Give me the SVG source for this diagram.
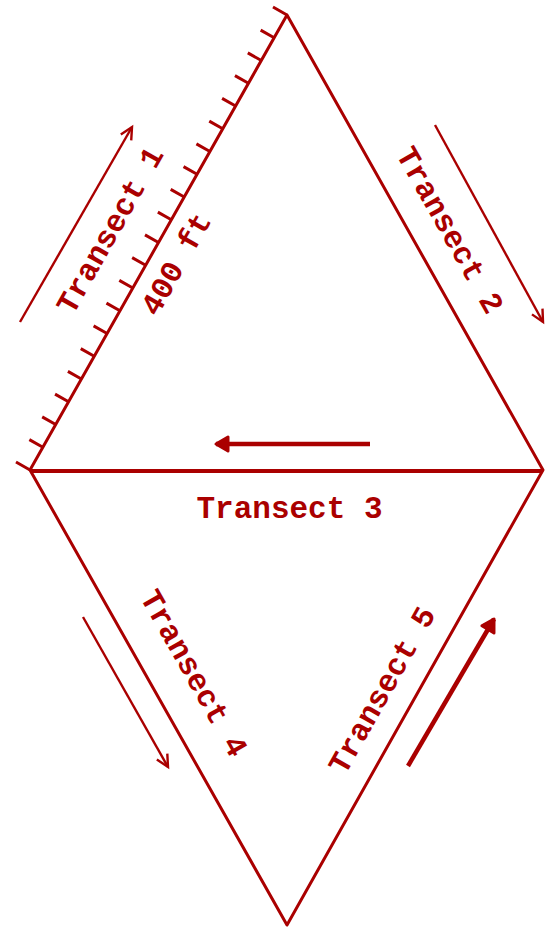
<svg xmlns="http://www.w3.org/2000/svg" width="545" height="928" viewBox="0 0 545 928">
<style>
.edge{fill:none;stroke:#aa0000;stroke-width:3;stroke-linecap:round;stroke-linejoin:round}
.base{fill:none;stroke:#aa0000;stroke-width:4}
.tick{fill:none;stroke:#aa0000;stroke-width:3}
.thin{fill:none;stroke:#aa0000;stroke-width:2.4}
.thick{fill:none;stroke:#aa0000;stroke-width:4.5}
.lbl{font-family:"Liberation Mono","DejaVu Sans Mono",monospace;font-weight:bold;font-size:31px;fill:#aa0000;text-anchor:middle}
</style>
<defs>
<marker id="open" markerUnits="userSpaceOnUse" markerWidth="20" markerHeight="20" viewBox="-14 -10 18 20" refX="0" refY="0" orient="auto">
<path d="M-12,-6 L0,0 L-12,6" fill="none" stroke="#aa0000" stroke-width="2.4"/>
</marker>
<marker id="bold" markerUnits="userSpaceOnUse" markerWidth="24" markerHeight="24" viewBox="-16 -12 20 24" refX="0" refY="0" orient="auto">
<path d="M-12,-7 L0,0 L-12,7 Z" fill="#aa0000" stroke="#aa0000" stroke-width="3" stroke-linejoin="round"/>
</marker>
</defs>
<g id="connectors">
<path class="edge" d="M30,470 L287,15 L543,470 L287,925 Z"/>
<path class="base" d="M30,471 L543,471"/>
<path class="tick" d="M30,470 l-14,-8 M42.85,447.25 l-13.5,-7.6 M55.7,424.5 l-13.5,-7.6 M68.55,401.75 l-13.5,-7.6 M81.4,379 l-13.5,-7.6 M94.25,356.25 l-13.5,-7.6 M107.1,333.5 l-13.5,-7.6 M119.95,310.75 l-13.5,-7.6 M132.8,288 l-13.5,-7.6 M145.65,265.25 l-13.5,-7.6 M158.5,242.5 l-13.5,-7.6 M171.35,219.75 l-13.5,-7.6 M184.2,197 l-13.5,-7.6 M197.05,174.25 l-13.5,-7.6 M209.9,151.5 l-13.5,-7.6 M222.75,128.75 l-13.5,-7.6 M235.6,106 l-13.5,-7.6 M248.45,83.25 l-13.5,-7.6 M261.3,60.5 l-13.5,-7.6 M274.15,37.75 l-13.5,-7.6 M287,15 l-14,-8"/>
<path class="thin" d="M20,322 L132,127" marker-end="url(#open)"/>
<path class="thin" d="M435,125 L543,322" marker-end="url(#open)"/>
<path class="thick" d="M370,444 L216,444" marker-end="url(#bold)"/>
<path class="thin" d="M83,617 L168,767" marker-end="url(#open)"/>
<path class="thick" d="M408,766 L494,619" marker-end="url(#bold)"/>
</g>
<g id="label-t1"><text class="lbl" transform="translate(110,230) rotate(-60.54)" y="10">Transect 1</text></g>
<g id="label-400"><text class="lbl" transform="translate(176,264) rotate(-60.54)" y="10">400 ft</text></g>
<g id="label-t2"><text class="lbl" transform="translate(450,230) rotate(60.54)" y="10">Transect 2</text></g>
<g id="label-t3"><text class="lbl" x="289.5" y="518">Transect 3</text></g>
<g id="label-t4"><text class="lbl" transform="translate(194,673) rotate(60.54)" y="10">Transect 4</text></g>
<g id="label-t5"><text class="lbl" transform="translate(382,690) rotate(-60.54)" y="10">Transect 5</text></g>
</svg>
